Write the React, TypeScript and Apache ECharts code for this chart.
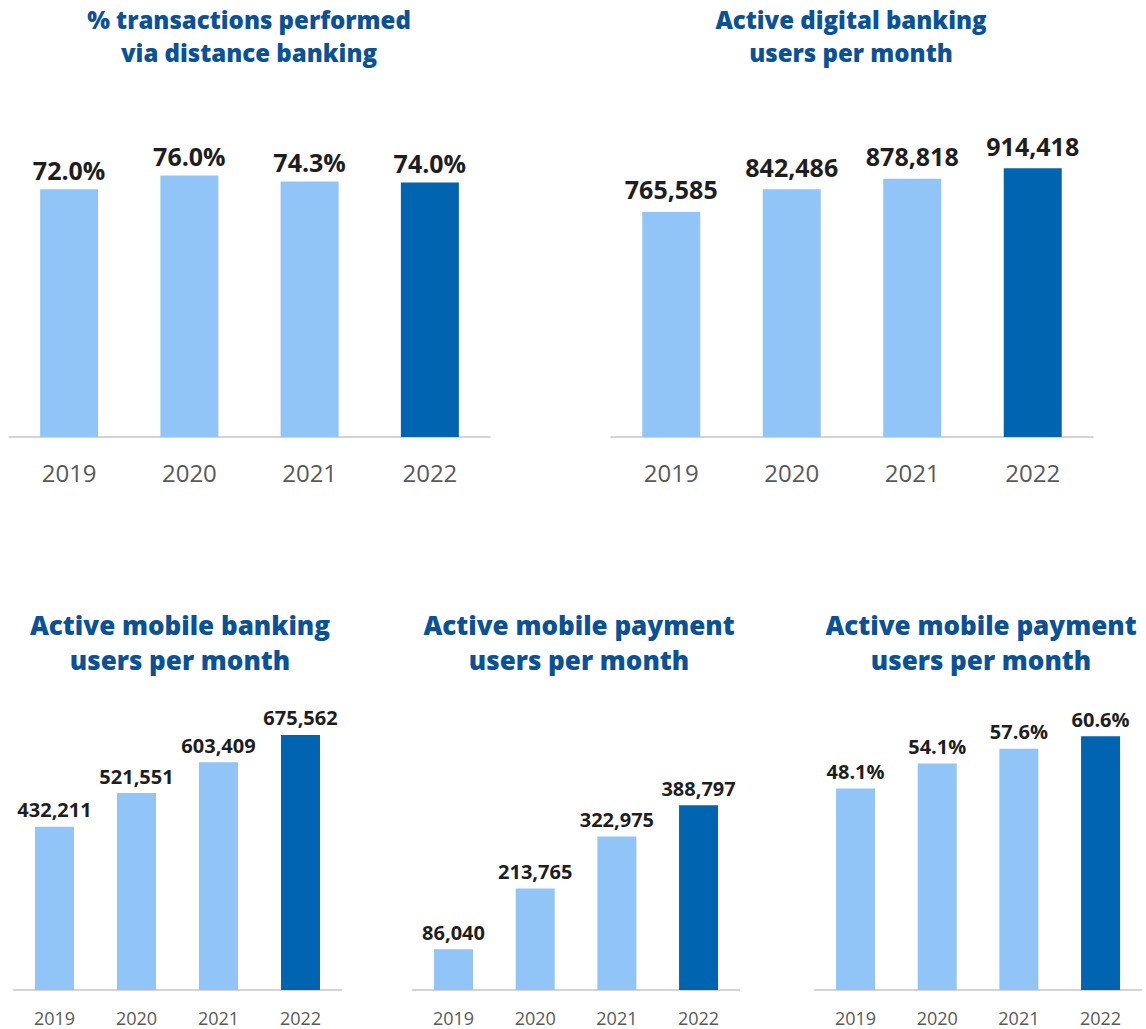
import React, { useEffect, useRef } from "react";
import * as echarts from "echarts";

const years = ["2019", "2020", "2021", "2022"];
const pctDistance = [72.0, 76.0, 74.3, 74.0];
const digitalUsers = [765585, 842486, 878818, 914418];
const mobileBankingUsers = [432211, 521551, 603409, 675562];
const mobilePaymentUsers = [86040, 213765, 322975, 388797];
const mobilePaymentPct = [48.1, 54.1, 57.6, 60.6];

const titles = [
  "% transactions performed\nvia distance banking",
  "Active digital banking\nusers per month",
  "Active mobile banking\nusers per month",
  "Active mobile payment\nusers per month",
  "Active mobile payment\nusers per month",
];

const LIGHT = "#92c5f7";
const DARK = "#0064b0";
const TITLE = "#0b5196";
const FONT = "'Open Sans', sans-serif";

const fmtNum = (v: number) => v.toLocaleString("en-US");
const fmtPct = (v: number) => v.toFixed(1) + "%";

type Panel = {
  values: number[];
  fmt: (v: number) => string;
  max: number;
  grid: { left: number; top: number; width: number; height: number };
  barWidth: number;
  labelSize: number;
  labelDist: number;
  yearSize: number;
  yearMargin: number;
  yearLH: number;
  title: { x: number; y: number; size: number; lh: number };
};

const panels: Panel[] = [
  {
    values: pctDistance, fmt: fmtPct, max: 100,
    grid: { left: 9, top: 93, width: 481, height: 344 },
    barWidth: 58, labelSize: 25, labelDist: 7, yearSize: 24, yearMargin: 22, yearLH: 26,
    title: { x: 249, y: 3, size: 24, lh: 33 },
  },
  {
    values: digitalUsers, fmt: fmtNum, max: 1000000,
    grid: { left: 611, top: 143, width: 482, height: 294 },
    barWidth: 58, labelSize: 25, labelDist: 10, yearSize: 24, yearMargin: 22, yearLH: 26,
    title: { x: 851, y: 3, size: 24, lh: 33 },
  },
  {
    values: mobileBankingUsers, fmt: fmtNum, max: 800000,
    grid: { left: 13.5, top: 688, width: 328, height: 302 },
    barWidth: 39, labelSize: 20, labelDist: 7, yearSize: 18, yearMargin: 19, yearLH: 18,
    title: { x: 180, y: 607, size: 26, lh: 35 },
  },
  {
    values: mobilePaymentUsers, fmt: fmtNum, max: 500000,
    grid: { left: 412.7, top: 752.5, width: 326.7, height: 237.5 },
    barWidth: 39, labelSize: 20, labelDist: 7, yearSize: 18, yearMargin: 19, yearLH: 18,
    title: { x: 579, y: 607, size: 26, lh: 35 },
  },
  {
    values: mobilePaymentPct, fmt: fmtPct, max: 80,
    grid: { left: 814.7, top: 655, width: 326.7, height: 335 },
    barWidth: 39, labelSize: 20, labelDist: 7, yearSize: 18, yearMargin: 19, yearLH: 18,
    title: { x: 981, y: 607, size: 26, lh: 35 },
  },
];

export default function App() {
  const ref = useRef<HTMLDivElement>(null);
  useEffect(() => {
    if (!ref.current) return;
    const chart = echarts.init(ref.current, null, { renderer: "svg" });
    const option: any = {
      animation: false,
      backgroundColor: "#ffffff",
      title: panels.map((p, i) => ({
        text: titles[i],
        left: p.title.x,
        top: p.title.y,
        textAlign: "center",
        padding: 0,
        textStyle: {
          fontFamily: FONT,
          fontWeight: 800,
          fontSize: p.title.size,
          lineHeight: p.title.lh,
          color: TITLE,
        },
      })),
      grid: panels.map((p) => ({ ...p.grid, containLabel: false })),
      xAxis: panels.map((p, i) => ({
        type: "category",
        gridIndex: i,
        data: years,
        axisTick: { show: false },
        axisLine: { show: true, lineStyle: { color: "#c6c6c6", width: 1.5 } },
        axisLabel: {
          fontFamily: FONT,
          fontSize: p.yearSize,
          lineHeight: p.yearLH,
          color: "#595959",
          margin: p.yearMargin,
        },
      })),
      yAxis: panels.map((p, i) => ({
        type: "value",
        gridIndex: i,
        min: 0,
        max: p.max,
        show: false,
        splitLine: { show: false },
      })),
      series: panels.map((p, i) => ({
        type: "bar",
        xAxisIndex: i,
        yAxisIndex: i,
        barWidth: p.barWidth,
        data: p.values.map((v, j) => ({
          value: v,
          itemStyle: { color: j === p.values.length - 1 ? DARK : LIGHT },
        })),
        label: {
          show: true,
          position: "top",
          distance: p.labelDist,
          fontFamily: FONT,
          fontWeight: "bold",
          fontSize: p.labelSize,
          color: "#1e1e1e",
          formatter: (params: any) => p.fmt(params.value),
        },
      })),
    };
    chart.setOption(option);
    return () => chart.dispose();
  }, []);
  return (
    <div
      ref={ref}
      style={{ position: "absolute", left: 0, top: 0, width: 1146, height: 1029 }}
    />
  );
}
